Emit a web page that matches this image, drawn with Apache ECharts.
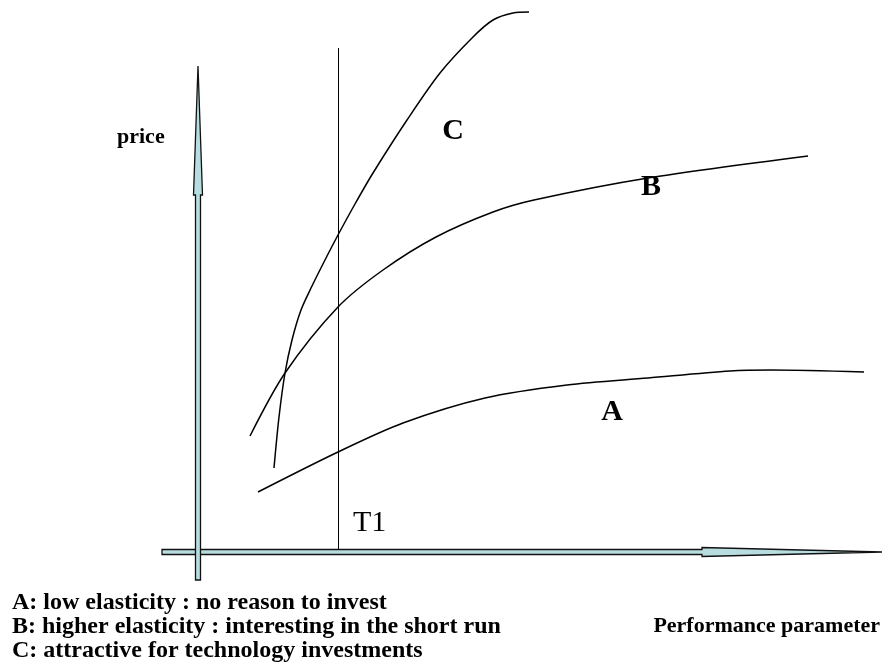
<!DOCTYPE html>
<html><head><meta charset="utf-8">
<script src="https://cdn.jsdelivr.net/npm/echarts@6/dist/echarts.min.js"></script>
<style>html,body{margin:0;padding:0;background:#fff}#c{width:883px;height:671px}</style>
</head><body><div id="c"></div>
<script>
// data space: origin at the axis crossing, x = performance, y = price (arbitrary units)
const curveA = [[60,60],[140,100],[205,129],[287,154],[369,167],[450,174],[532,181],[573,182],[666,180]];
const curveB = [[52,116],[87,179],[140,245],[185,282],[238,315],[295,340],[336,352],[450,374],[610,396]];
const curveC = [[76,84],[81,135],[87,179],[94,212],[103,242],[114,266],[127,292],[140,317],[157,348],[175,379],[209,432],[242,479],[275,515],[295,532],[315,539],[331,540]];
const lineT1 = [[140.5,0],[140.5,504]];
// x1, y1, x2, y2, arrow-head base along the axis
const axisArrows = [[-36,0,684,0,504],[0,-28,0,486,357]];
const curveNames = ['A','B','C'];
const markerName = 'T1';
const yAxisTitle = 'price';
const xAxisTitle = 'Performance parameter';
const captions = ['A: low elasticity : no reason to invest','B: higher elasticity : interesting in the short run','C: attractive for technology investments'];

const chart = echarts.init(document.getElementById('c'));
const serif = '"Liberation Serif", "Times New Roman", serif';
const lineStyle = {color:'#000', width:1.5};
function curve(name, data){
  return {type:'line', name, data, smooth:0.3, symbol:'none', lineStyle, silent:true, z:2};
}
const txt = (x,y,text,size,bold,align) => ({type:'text', x, y, style:{text, font:(bold?'bold ':'')+size+'px '+serif, fill:'#000', textAlign:align||'left', textVerticalAlign:'middle'}});
chart.setOption({
  animation:false,
  grid:{left:0, top:0, width:883, height:671, containLabel:false},
  xAxis:{type:'value', min:-198, max:685, show:false},
  yAxis:{type:'value', min:-119, max:552, show:false},
  series:[
    curve(curveNames[0], curveA),
    curve(curveNames[1], curveB),
    curve(curveNames[2], curveC),
    {type:'line', name:markerName, data:lineT1, symbol:'none', lineStyle:{color:'#000', width:1}, z:2},
    {type:'custom', data:axisArrows, encode:{x:[0,2], y:[1,3]}, clip:false, z:5,
     renderItem(params, api){
       const p1 = api.coord([api.value(0), api.value(1)]);
       const p2 = api.coord([api.value(2), api.value(3)]);
       const horiz = api.value(1) === api.value(3);
       const hb = horiz ? api.coord([api.value(4), api.value(1)]) : api.coord([api.value(0), api.value(4)]);
       const s = 2.5, h = 4.5;
       let pts;
       if (horiz) {
         const y = p1[1];
         pts = [[p1[0],y-s],[hb[0],y-s],[hb[0],y-h],[p2[0],y],[hb[0],y+h],[hb[0],y+s],[p1[0],y+s]];
       } else {
         const x = p1[0];
         pts = [[x-s,p1[1]],[x-s,hb[1]],[x-h,hb[1]],[x,p2[1]],[x+h,hb[1]],[x+s,hb[1]],[x+s,p1[1]]];
       }
       return {type:'polygon', shape:{points:pts}, style:{fill:'#b8dde0', stroke:'#111', lineWidth:1.3}};
     }}
  ],
  graphic:[
    txt(117,137,yAxisTitle,22,true),
    txt(453,131,curveNames[2],30,true,'center'),
    txt(651,187,curveNames[1],30,true,'center'),
    txt(612,412,curveNames[0],30,true,'center'),
    txt(353,523,markerName,30,false),
    txt(880,626,xAxisTitle,22,true,'right'),
    txt(12,603,captions[0],24,true),
    txt(12,627,captions[1],24,true),
    txt(12,651,captions[2],24,true)
  ]
});
</script></body></html>
